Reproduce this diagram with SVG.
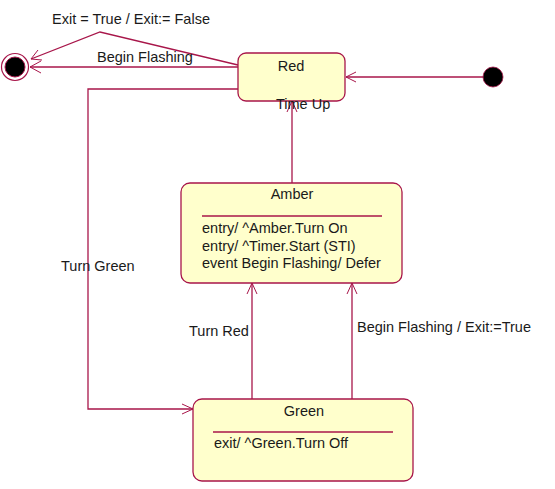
<svg xmlns="http://www.w3.org/2000/svg" width="555" height="489" viewBox="0 0 555 489">
<style>
.box{fill:#ffffcc;stroke:#a8164a;stroke-width:1.3}
.sep{stroke:#a8164a;stroke-width:1.3}
.ln{fill:none;stroke:#a8164a;stroke-width:1.3}
.ah{fill:none;stroke:#a8164a;stroke-width:1}
text{font-family:"Liberation Sans",Arial,sans-serif;font-size:14.5px;fill:#1a1a1a}
.c{text-anchor:middle}
</style>
<rect width="555" height="489" fill="#ffffff"/>
<g id="connectors">
  <!-- initial -> Red -->
  <line class="ln" x1="483" y1="77" x2="346" y2="77"/>
  <polyline class="ah" points="356,72 346,77 356,82"/>
  <!-- Red -> final (Begin Flashing) -->
  <line class="ln" x1="238" y1="67" x2="30" y2="67"/>
  <polyline class="ah" points="41,61 30,67 41,73"/>
  <!-- Red -> final (Exit = True) -->
  <polyline class="ln" points="238,65 100,32 31,59"/>
  <polyline class="ah" points="38,50 31,59 42,60"/>
  <!-- Red -> Green (Turn Green) -->
  <polyline class="ln" points="238,89 88,89 88,409 193,409"/>
  <polyline class="ah" points="182,404 193,409 182,414"/>
  <!-- Amber -> Red (Time Up) -->
  <line class="ln" x1="292" y1="183" x2="292" y2="101"/>
  <polyline class="ah" points="287,112 292,101 297,112"/>
  <!-- Green -> Amber (Turn Red) -->
  <line class="ln" x1="252" y1="399" x2="252" y2="283"/>
  <polyline class="ah" points="247,294 252,283 257,294"/>
  <!-- Green -> Amber (Begin Flashing / Exit:=True) -->
  <line class="ln" x1="352" y1="399" x2="352" y2="283"/>
  <polyline class="ah" points="347,294 352,283 357,294"/>
  <text x="52" y="24">Exit = True / Exit:= False</text>
  <text x="97" y="62">Begin Flashing</text>
  <text x="61" y="271">Turn Green</text>
  <text x="189" y="336">Turn Red</text>
  <text x="357" y="332">Begin Flashing / Exit:=True</text>
</g>
<g id="final">
  <circle cx="15" cy="67" r="13.5" fill="#ffffff" stroke="#a8164a" stroke-width="1.2"/>
  <circle cx="15" cy="67" r="10" fill="#000000" stroke="#a8164a" stroke-width="1"/>
</g>
<g id="initial">
  <circle cx="493" cy="77" r="10" fill="#000000" stroke="#a8164a" stroke-width="0.8"/>
</g>
<g id="red">
  <rect class="box" x="238" y="53" width="107" height="48" rx="8"/>
  <text class="c" x="291" y="71">Red</text>
</g>
<text x="276" y="109">Time Up</text>
<g id="amber">
  <rect class="box" x="181" y="183" width="221" height="100" rx="9"/>
  <text class="c" x="292" y="199">Amber</text>
  <line class="sep" x1="202" y1="216" x2="382" y2="216"/>
  <text x="202" y="233">entry/ ^Amber.Turn On</text>
  <text x="202" y="251">entry/ ^Timer.Start (STI)</text>
  <text x="202" y="268">event Begin Flashing/ Defer</text>
</g>
<g id="green">
  <rect class="box" x="193" y="399" width="220" height="82" rx="9"/>
  <text class="c" x="304" y="416">Green</text>
  <line class="sep" x1="213" y1="432" x2="393" y2="432"/>
  <text x="214" y="448">exit/ ^Green.Turn Off</text>
</g>
</svg>
